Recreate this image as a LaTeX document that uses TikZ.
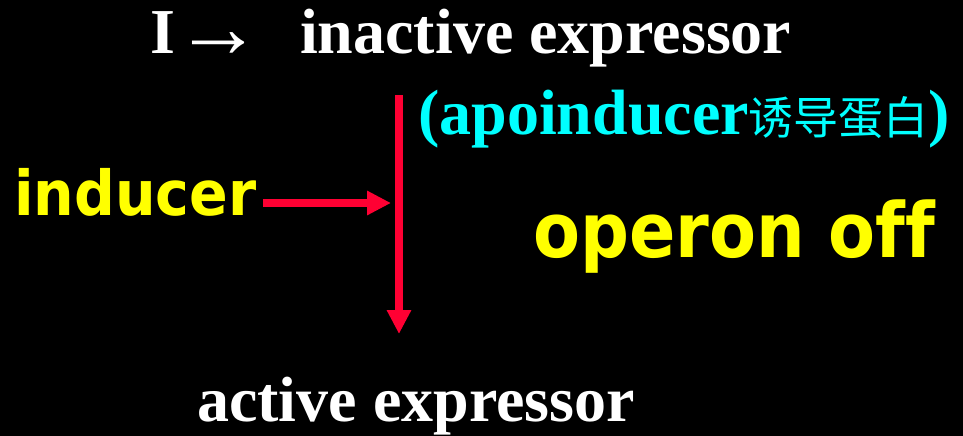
\documentclass[tikz,border=0pt]{standalone}
\usepackage{fontspec}
\setmainfont{Liberation Serif}
\newfontfamily\cjk{Noto Sans CJK SC}
\newfontfamily\boldsans{DejaVu Sans}[Ligatures=NoCommon]
\usetikzlibrary{arrows.meta}
\definecolor{arrowred}{RGB}{255,0,51}
\definecolor{labelcyan}{RGB}{0,255,255}
\definecolor{labelyellow}{RGB}{255,255,0}
\tikzset{
  whitelabel/.style={inner sep=0pt, anchor=base west, text=white,
    font=\fontsize{64}{64}\selectfont\bfseries},
  cyanlabel/.style={inner sep=0pt, anchor=base west, text=labelcyan,
    font=\fontsize{64}{64}\selectfont\bfseries},
  yellowlabel/.style={inner sep=0pt, anchor=base west, text=labelyellow},
  redarrow/.style={draw=arrowred, line width=8pt,
    -{Triangle[length=24pt,width=23pt]}},
}
\begin{document}
\begin{tikzpicture}[x=1pt,y=-1pt]
  \fill[black] (0,0) rectangle (963,436);
  \useasboundingbox (0,0) rectangle (963,436);

  % top line
  \node[whitelabel] (iletter) at (150,54) {I};
  \node[whitelabel, font=\fontsize{88}{88}\selectfont\bfseries] (iarrow) at (174,58) {→};
  \node[whitelabel] (inactive) at (300,54) {inactive expressor};

  % apoinducer label
  \node[cyanlabel] (apo) at (418,134)
    {(apoinducer{\cjk\mdseries\fontsize{45}{45}\selectfont 诱导蛋白})};

  % inducer and operon state
  \node[yellowlabel, font=\fontsize{62}{62}\selectfont\boldsans\bfseries] (inducer) at (14,215)
    {\scalebox{0.92}[1]{inducer}};
  \node[yellowlabel, font=\fontsize{76}{76}\selectfont\boldsans\bfseries] (operon) at (533,257)
    {\scalebox{0.9}[1]{operon off}};

  % bottom line
  \node[whitelabel] (active) at (197,421) {active expressor};

  % arrows
  \coordinate (vtop) at (399,95);
  \coordinate (vtip) at (399,334);
  \coordinate (hend) at (391,203);
  \coordinate (hstart) at (263,203);
  \draw[redarrow] (vtop) -- (vtip);
  \draw[redarrow] (hstart) -- (hend);
\end{tikzpicture}
\end{document}
